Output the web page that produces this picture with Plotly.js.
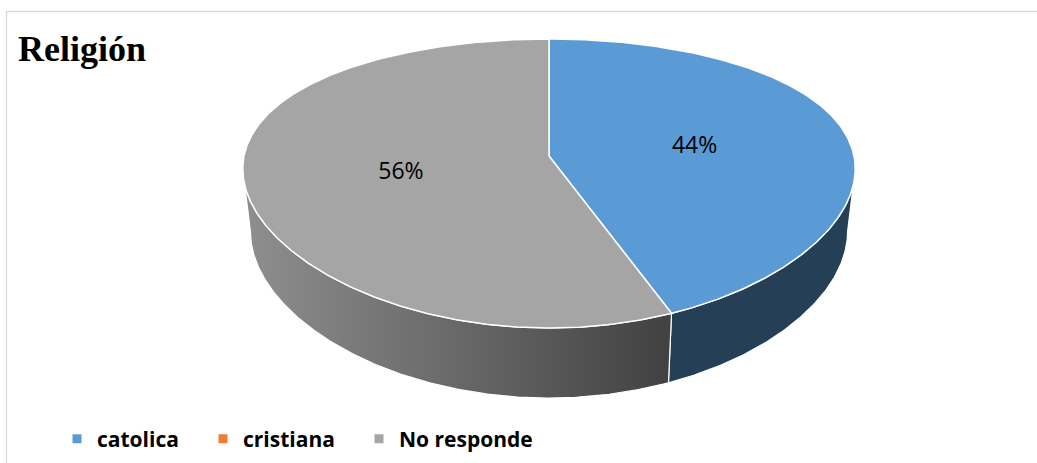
<!DOCTYPE html>
<html><head><meta charset="utf-8">
<script src="https://cdn.plot.ly/plotly-3.0.1.min.js"></script>
<style>html,body{margin:0;padding:0;background:#fff}#chart{width:1037px;height:463px}</style>
</head><body><div id="chart"></div>
<script>
// ---- data ----
const categories = ['catolica', 'cristiana', 'No responde'];
const values = [44, 0, 56];
const titleText = 'Religión';

// ---- styles ----
const topColors = ['#5B9BD5', '#ED7D31', '#A5A5A5'];
const sideFills = [
  {fillcolor: '#243F56'},
  {fillcolor: '#8A4418'},
  {fillgradient: {type: 'horizontal', colorscale: [[0, '#8F8F8F'], [1, '#414141']]}}
];
const legendX = [57, 203, 359];   // left edge (px) of each legend entry
const LABEL_DY = 4;

// ---- 3D pie projection (pixel space) ----
const W = 1037, H = 463;
const CX = 549, RX = 305, PX = 0.09, PYA = 109.58, PYB = 156, PYC = 0.1903;
function topPt(th, f) {
  if (f === undefined) f = 1;
  const s = Math.sin(th) * f, d = -Math.cos(th) * f;
  return [CX + RX * s / (1 - PX * d), (PYA * d + PYB) / (1 - PYC * d)];
}
function botPt(th) {
  const p = topPt(th, 1), d = -Math.cos(th);
  return [CX + (p[0] - CX) * 0.975, p[1] + 62 + 8 * d];
}
// silhouette angles
let thR = 0, thL = Math.PI, bestR = -1e9, bestL = 1e9;
for (let i = 0; i <= 3600; i++) {
  const th = i / 3600 * 2 * Math.PI, x = topPt(th)[0];
  if (th <= Math.PI && x > bestR) { bestR = x; thR = th; }
  if (th >= Math.PI && x < bestL) { bestL = x; thL = th; }
}
const total = values.reduce((a, b) => a + b, 0);
const STEP = Math.PI / 360;
function arc(a, b, fn) {
  const pts = [], n = Math.max(2, Math.ceil((b - a) / STEP));
  for (let i = 0; i <= n; i++) pts.push(fn(a + (b - a) * i / n));
  return pts;
}

const sideTraces = [], topTraces = [], lx = [], ly = [], lt = [];
let acc = 0;
values.forEach((v, i) => {
  const a = acc / total * 2 * Math.PI;
  acc += v;
  const b = acc / total * 2 * Math.PI;
  if (v <= 0) return;
  // side
  const a2 = Math.max(a, thR), b2 = Math.min(b, thL);
  if (b2 > a2) {
    const tp = arc(a2, b2, topPt), bp = arc(a2, b2, botPt).reverse();
    const pts = tp.concat(bp); pts.push(tp[0]);
    sideTraces.push(Object.assign({
      type: 'scatter', mode: 'lines', x: pts.map(p => p[0]), y: pts.map(p => p[1]),
      fill: 'toself', line: {color: '#FFFFFF', width: 1.2}, hoverinfo: 'skip', showlegend: false
    }, sideFills[i]));
  }
  // top face
  const c = topPt(0, 0);
  const pts = [c].concat(arc(a, b, topPt)); pts.push(c);
  topTraces.push({
    type: 'scatter', mode: 'lines', x: pts.map(p => p[0]), y: pts.map(p => p[1]),
    fill: 'toself', fillcolor: topColors[i], line: {color: '#FFFFFF', width: 1.5},
    hoverinfo: 'skip', showlegend: false
  });
  const lp = topPt((a + b) / 2, 0.49);
  lx.push(lp[0]); ly.push(lp[1] + LABEL_DY); lt.push(Math.round(v / total * 100) + '%');
});

const labelTrace = {
  type: 'scatter', mode: 'text', x: lx, y: ly, text: lt, textposition: 'middle center',
  textfont: {family: 'Open Sans', size: 23, color: '#000'}, hoverinfo: 'skip', showlegend: false
};
const legendNames = ['legend', 'legend2', 'legend3'];
const legendTraces = categories.map((c, i) => ({
  type: 'scatter', mode: 'markers', x: [null], y: [null], name: c,
  marker: {symbol: 'square', size: 9, color: topColors[i]}, showlegend: true,
  legend: legendNames[i]
}));

const layout = {
  width: W, height: H,
  margin: {l: 0, r: 0, t: 0, b: 0},
  paper_bgcolor: '#FFFFFF', plot_bgcolor: '#FFFFFF',
  hovermode: false,
  xaxis: {range: [0, W], visible: false, fixedrange: true},
  yaxis: {range: [H, 0], visible: false, fixedrange: true},
  title: {
    text: titleText, font: {family: 'Liberation Serif', size: 36, weight: 'bold', color: '#000'},
    xref: 'container', yref: 'container', x: 18 / W, xanchor: 'left', y: 1 - 48 / H, yanchor: 'middle'
  },
  shapes: [{
    type: 'rect', xref: 'x', yref: 'y', x0: 6.5, y0: 11.5, x1: W + 10, y1: H + 10,
    line: {color: '#D9D9D9', width: 1.3}, layer: 'below'
  }]
};
legendNames.forEach((ln, i) => {
  layout[ln] = {
    orientation: 'h', x: legendX[i] / W, xanchor: 'left', y: 1 - 439 / H, yanchor: 'middle',
    font: {family: 'Open Sans', size: 21, color: '#000', weight: 'bold'},
    bgcolor: 'rgba(0,0,0,0)'
  };
});

Plotly.newPlot('chart', sideTraces.concat(topTraces, [labelTrace], legendTraces), layout,
  {displayModeBar: false, staticPlot: true});
</script></body></html>
